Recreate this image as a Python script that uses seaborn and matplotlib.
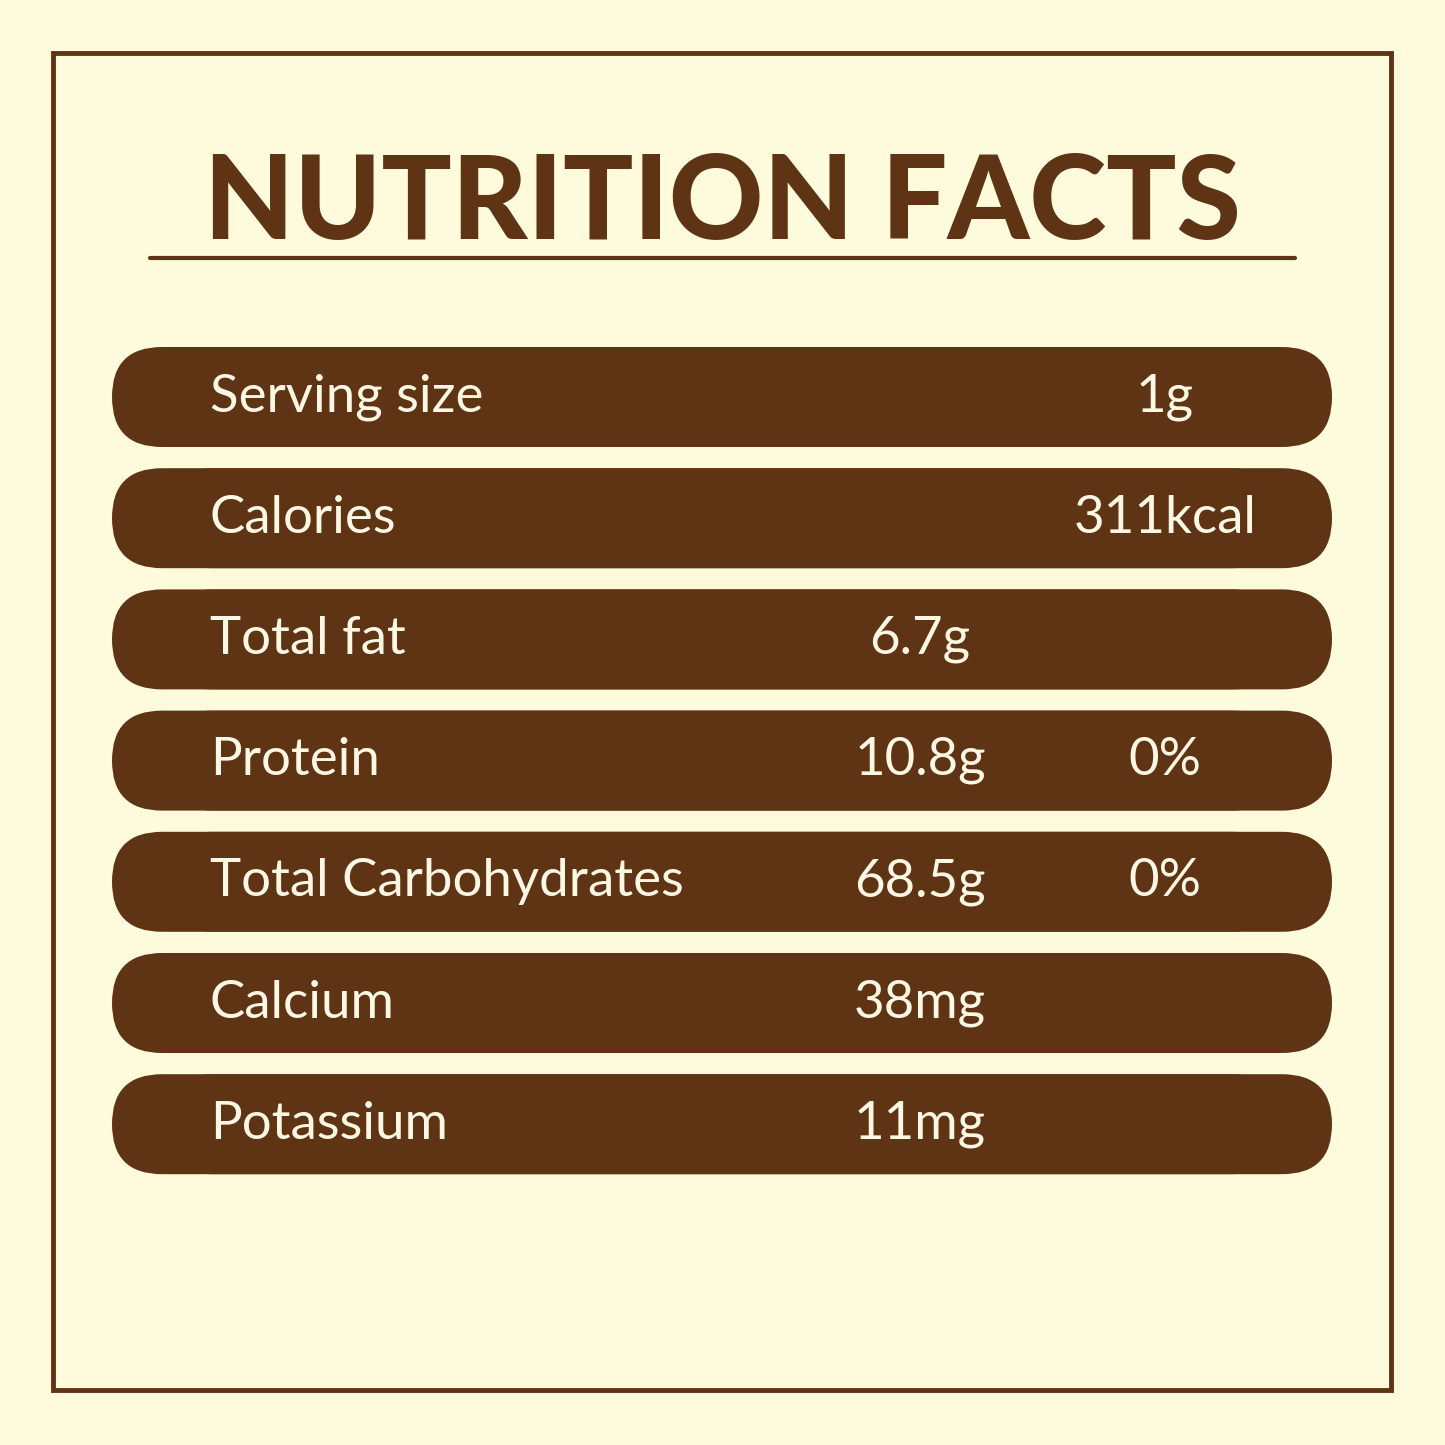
import matplotlib
matplotlib.use("Agg")
import matplotlib.pyplot as plt
import seaborn as sns
from matplotlib.patches import FancyBboxPatch, Rectangle

sns.set_theme(style="white")
plt.rcParams['font.family'] = ['Lato', 'DejaVu Sans']

title = "NUTRITION FACTS"
nutrients = ["Serving size", "Calories", "Total fat", "Protein", "Total Carbohydrates", "Calcium", "Potassium"]
amounts = ["", "", "6.7g", "10.8g", "68.5g", "38mg", "11mg"]
right_col = ["1g", "311kcal", "", "0%", "0%", "", ""]

BG = "#FEFBDD"
BROWN = "#5E3415"
CREAM = "#FDF7E4"

fig = plt.figure(figsize=(14.45, 14.45), dpi=100, facecolor=BG)
ax = fig.add_axes([0, 0, 1, 1])
ax.set_facecolor(BG)
ax.set_xlim(0, 1445)
ax.set_ylim(1445, 0)
ax.axis("off")

ax.add_patch(Rectangle((53, 53), 1338, 1337, fill=False, edgecolor=BROWN, lw=3.5))
ax.text(722, 205, title, ha="center", va="center", fontsize=84, fontweight="black", color=BROWN)
ax.plot([150, 1295], [258, 258], color=BROWN, lw=3)

for i, (n, a, r) in enumerate(zip(nutrients, amounts, right_col)):
    yc = 397 + i * 121.2
    h = 100
    ax.add_patch(FancyBboxPatch((112 + h / 2, yc - h / 2), 1220 - h, h,
                                boxstyle=f"round,pad=0,rounding_size={h/2}",
                                facecolor=BROWN, edgecolor="none", mutation_aspect=1))
    ax.add_patch(FancyBboxPatch((112, yc - h / 2), 1220, h,
                                boxstyle=f"round,pad=0,rounding_size={h/2}",
                                facecolor=BROWN, edgecolor="none"))
    ax.text(210, yc, n, ha="left", va="center", fontsize=38, color=CREAM)
    if a:
        ax.text(920, yc, a, ha="center", va="center", fontsize=38, color=CREAM)
    if r:
        ax.text(1165, yc, r, ha="center", va="center", fontsize=38, color=CREAM)

fig.savefig("out.png", dpi=100, facecolor=BG)
